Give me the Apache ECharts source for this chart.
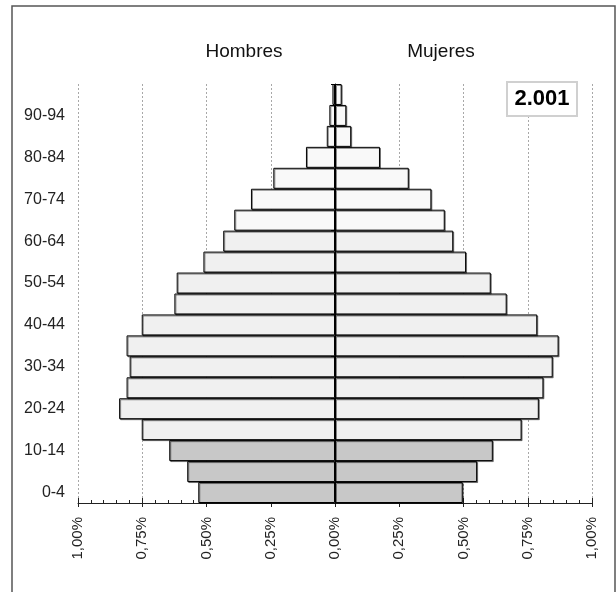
<!DOCTYPE html>
<html>
<head>
<meta charset="utf-8">
<script src="https://cdn.jsdelivr.net/npm/echarts@6/dist/echarts.min.js"></script>
<style>html,body{margin:0;padding:0;background:#fff;}#c{width:616px;height:592px;}</style>
</head>
<body>
<div id="c"></div>
<script>
// Age groups, bottom to top
var categories = ['0-4','5-9','10-14','15-19','20-24','25-29','30-34','35-39','40-44','45-49','50-54','55-59','60-64','65-69','70-74','75-79','80-84','85-89','90-94','95+'];
// Percent of total population
var hombres = [0.532,0.575,0.645,0.752,0.840,0.811,0.799,0.811,0.752,0.625,0.616,0.512,0.435,0.392,0.327,0.240,0.113,0.032,0.022,0.010];
var mujeres = [0.497,0.553,0.614,0.726,0.793,0.811,0.847,0.870,0.787,0.668,0.606,0.510,0.460,0.427,0.375,0.287,0.175,0.063,0.044,0.026];
var xTicks = [-1, 1, 0.25]; // min, max, interval
var seriesNames = ['Hombres', 'Mujeres'];
var yearLabel = '2.001';

var FONT = '"Liberation Sans", Arial, sans-serif';
function barColor(i) {
  if (i < 3) return '#c8c8c8';
  if (i < 13) return '#f0f0f0';
  return '#f9f9f9';
}
function barStyle() {
  return {
    color: function (p) { return barColor(p.dataIndex); },
    borderColor: '#000',
    borderWidth: 1,
    shadowColor: 'rgba(0,0,0,0.45)',
    shadowOffsetX: 1,
    shadowOffsetY: 1,
    shadowBlur: 0
  };
}

var chart = echarts.init(document.getElementById('c'), null, {renderer: 'canvas'});
chart.setOption({
  animation: false,
  backgroundColor: '#fff',
  grid: {left: 78, right: 24, top: 84, bottom: 89, containLabel: false},
  xAxis: [{
    type: 'value', min: xTicks[0], max: xTicks[1], interval: xTicks[2],
    position: 'bottom',
    axisLine: {show: true, onZero: false, lineStyle: {color: '#222', width: 1}},
    axisTick: {show: true, inside: true, length: 5, lineStyle: {color: '#222'}},
    minorTick: {show: true, splitNumber: 5, length: 3, lineStyle: {color: '#222'}},
    splitLine: {show: true, lineStyle: {color: '#a8a8a8', type: [2, 2], width: 1}},
    axisLabel: {
      rotate: 90, margin: 14, fontSize: 15, color: '#222', fontFamily: FONT,
      formatter: function (v) { return Math.abs(v).toFixed(2).replace('.', ',') + '%'; }
    }
  }, {
    type: 'value', min: xTicks[0], max: xTicks[1], interval: xTicks[2],
    position: 'bottom',
    axisLine: {show: false, onZero: false},
    axisTick: {show: true, inside: false, length: 4, lineStyle: {color: '#222'}},
    splitLine: {show: false},
    axisLabel: {show: false}
  }],
  yAxis: [{
    type: 'category', data: categories, position: 'left',
    axisLine: {show: false}, axisTick: {show: false},
    axisLabel: {interval: 1, margin: 13, fontSize: 16, color: '#222', fontFamily: FONT}
  }, {
    type: 'category', data: categories, position: 'left',
    axisLine: {show: true, onZero: true, lineStyle: {color: '#000', width: 1}},
    axisTick: {show: true, length: 4, interval: function (i) { return i % 2 === 1; }, lineStyle: {color: '#000'}},
    axisLabel: {show: false},
    z: 10
  }],
  series: [{
    name: seriesNames[0], type: 'bar', xAxisIndex: 0, yAxisIndex: 0,
    data: hombres.map(function (v) { return -v; }),
    barCategoryGap: 0, barGap: '-100%',
    itemStyle: barStyle()
  }, {
    name: seriesNames[1], type: 'bar', xAxisIndex: 0, yAxisIndex: 0,
    data: mujeres,
    barCategoryGap: 0, barGap: '-100%',
    itemStyle: barStyle()
  }],
  graphic: [
    {type: 'rect', z: 100, silent: true, shape: {x: 12, y: 6, width: 603, height: 600},
     style: {fill: null, stroke: '#555', lineWidth: 1.5}},
    {type: 'text', z: 100, x: 244, y: 52,
     style: {text: seriesNames[0], font: '19px ' + FONT, fill: '#111', textAlign: 'center', textVerticalAlign: 'middle'}},
    {type: 'text', z: 100, x: 441, y: 52,
     style: {text: seriesNames[1], font: '19px ' + FONT, fill: '#111', textAlign: 'center', textVerticalAlign: 'middle'}},
    {type: 'rect', z: 100, shape: {x: 507, y: 82, width: 70, height: 34},
     style: {fill: '#fff', stroke: '#d0d0d0', lineWidth: 2}},
    {type: 'text', z: 101, x: 542, y: 99,
     style: {text: yearLabel, font: 'bold 22px ' + FONT, fill: '#000', textAlign: 'center', textVerticalAlign: 'middle'}}
  ]
});
</script>
</body>
</html>
